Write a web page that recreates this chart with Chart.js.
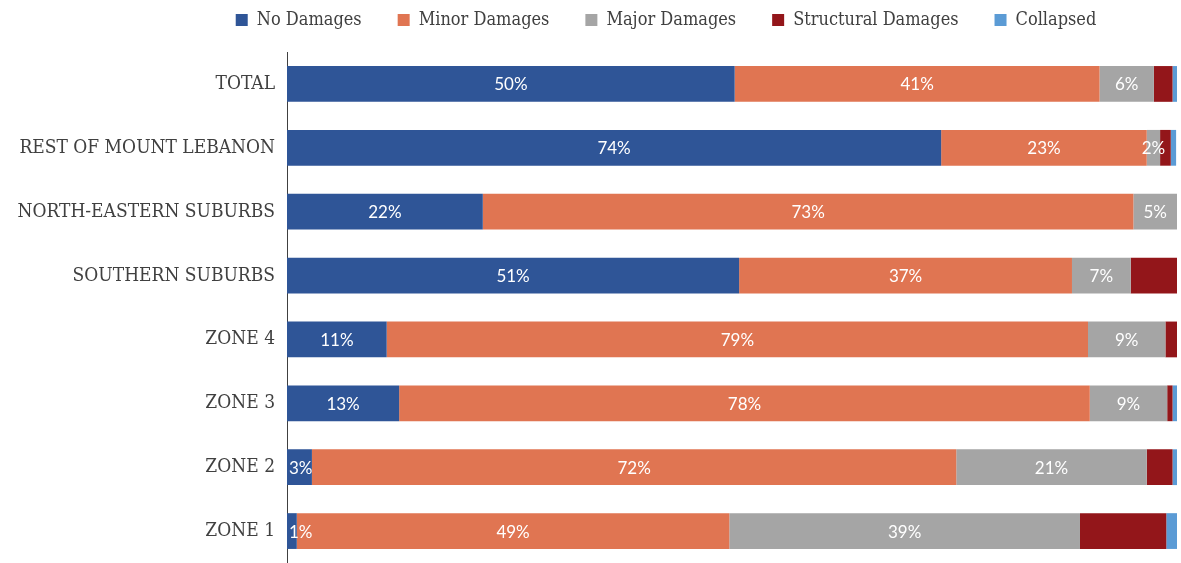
<!DOCTYPE html>
<html>
<head>
<meta charset="utf-8">
<script src="https://cdn.jsdelivr.net/npm/chart.js@4/dist/chart.umd.min.js"></script>
<style>
  html, body { margin: 0; padding: 0; background: #fff; overflow: hidden; }
  canvas { display: block; }
</style>
</head>
<body>
<canvas id="myChart" width="1181" height="563"></canvas>
<script>
// Damage levels by area (percent of buildings)

const categories = [
  'TOTAL',
  'REST OF MOUNT LEBANON',
  'NORTH-EASTERN SUBURBS',
  'SOUTHERN SUBURBS',
  'ZONE 4',
  'ZONE 3',
  'ZONE 2',
  'ZONE 1'
];

const noDamages         = [50.3, 73.5, 22.0, 50.8, 11.2, 12.6,  2.8,  1.1];
const minorDamages      = [41.0, 23.1, 73.1, 37.4, 78.8, 77.6, 72.4, 48.6];
const majorDamages      = [ 6.1,  1.5,  4.9,  6.6,  8.7,  8.7, 21.4, 39.4];
const structuralDamages = [ 2.1,  1.2,  0.0,  5.2,  1.3,  0.6,  2.9,  9.7];
const collapsed         = [ 0.5,  0.6,  0.0,  0.0,  0.0,  0.7,  0.5,  1.2];

const serif = '"DejaVu Serif Condensed", "DejaVu Serif", serif';

const barLabels = {
  id: 'barLabels',
  afterDatasetsDraw(chart) {
    const ctx = chart.ctx;
    const area = chart.chartArea;
    ctx.save();
    ctx.font = '17px Lato';
    ctx.fillStyle = '#fff';
    ctx.textBaseline = 'middle';
    ctx.textAlign = 'center';
    // only the first three series carry labels
    [0, 1, 2].forEach(function(di) {
      const meta = chart.getDatasetMeta(di);
      meta.data.forEach(function(bar, i) {
        const v = chart.data.datasets[di].data[i];
        if (!v) return;
        const txt = Math.round(v) + '%';
        const w = ctx.measureText(txt).width;
        let x = (bar.x + bar.base) / 2;
        x = Math.max(x, area.left + w / 2 + 2);
        x = Math.min(x, area.right - w / 2 - 3);
        ctx.fillText(txt, x, bar.y + 1);
      });
    });
    ctx.restore();
  }
};

// legend sits a bit right of the canvas centre
const legendShift = {
  id: 'legendShift',
  afterLayout(chart) {
    const lg = chart.legend;
    lg.left = 151;
    lg.right = chart.width;
    lg.width = lg.right - lg.left;
  }
};

const common = {
  type: 'bar',
  borderWidth: 0,
  barPercentage: 0.56,
  categoryPercentage: 1
};

const data = {
  labels: categories,
  datasets: [
    Object.assign({ label: 'No Damages', data: noDamages, backgroundColor: '#2F5597' }, common),
    Object.assign({ label: 'Minor Damages', data: minorDamages, backgroundColor: '#E07552' }, common),
    Object.assign({ label: 'Major Damages', data: majorDamages, backgroundColor: '#A5A5A5' }, common),
    Object.assign({ label: 'Structural Damages', data: structuralDamages, backgroundColor: '#93161A' }, common),
    Object.assign({ label: 'Collapsed', data: collapsed, backgroundColor: '#5B9BD5' }, common)
  ]
};

const config = {
  type: 'bar',
  data: data,
  options: {
    indexAxis: 'y',
    responsive: false,
    animation: false,
    layout: {
      padding: { left: 0, right: 4, top: -25, bottom: -4 }
    },
    scales: {
      x: {
        stacked: true,
        min: 0,
        max: 100,
        position: 'top',
        afterFit: function(scale) { scale.height = 13; },
        ticks: { display: false },
        grid: { display: false, drawTicks: false },
        border: { display: false }
      },
      y: {
        stacked: true,
        afterFit: function(scale) {
          scale.width = 287;
          scale.paddingTop = 0;
          scale.paddingBottom = 0;
        },
        grid: { display: false, drawTicks: false },
        border: { display: true, color: '#404040', width: 1 },
        ticks: {
          padding: 12,
          color: '#404040',
          font: { family: serif, size: 19 }
        }
      }
    },
    plugins: {
      legend: {
        position: 'top',
        labels: {
          boxWidth: 12,
          boxHeight: 12,
          padding: 36,
          color: '#404040',
          font: { family: serif, size: 18 }
        }
      },
      tooltip: { enabled: false }
    }
  },
  plugins: [barLabels, legendShift]
};

const myChart = new Chart(document.getElementById('myChart'), config);
</script>
</body>
</html>
